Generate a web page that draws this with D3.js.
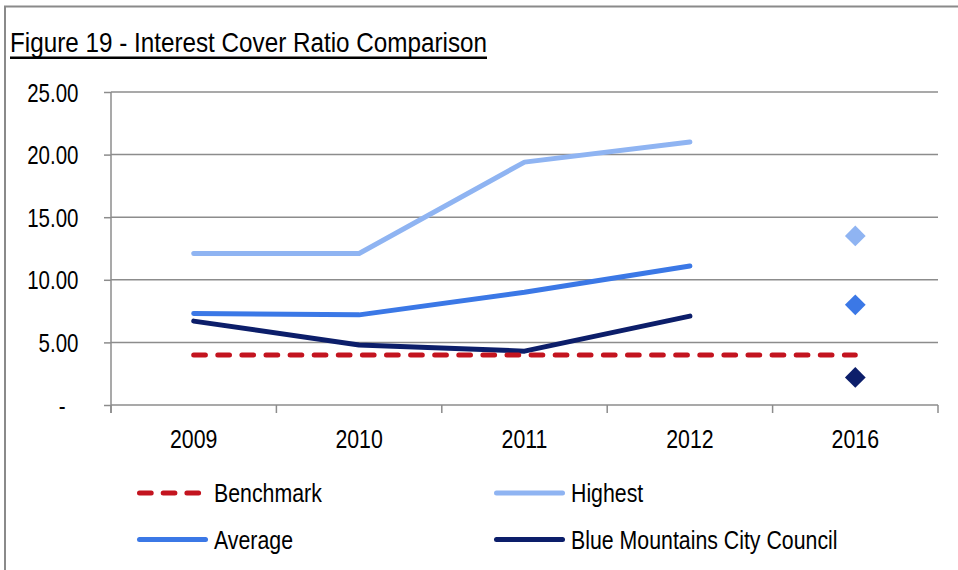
<!DOCTYPE html>
<html>
<head>
<meta charset="utf-8">
<script src="https://cdn.jsdelivr.net/npm/d3@7"></script>
<style>
  html, body { margin: 0; padding: 0; background: #fff; }
  svg { display: block; }
  text { font-family: "Liberation Sans", Arial, sans-serif; fill: #000; }
</style>
</head>
<body>
<svg id="chart" width="958" height="570"></svg>
<script>
// Interest cover ratio by year
const years = ["2009", "2010", "2011", "2012", "2016"];
const yTicks = [0, 5, 10, 15, 20, 25];
const benchmark = [4.0, 4.0, 4.0, 4.0, 4.0];
const highest = [12.1, 12.1, 19.4, 21.0];
const average = [7.3, 7.2, 9.0, 11.1];
const blueMountains = [6.7, 4.8, 4.3, 7.1];
// 2016 projections drawn as single markers
const highest2016 = 13.5;
const average2016 = 8.0;
const blueMountains2016 = 2.2;

const seriesNames = ["Benchmark", "Highest", "Average", "Blue Mountains City Council"];
const colors = {
  "Benchmark": "#c3141f",
  "Highest": "#8fb4f2",
  "Average": "#3b78e6",
  "Blue Mountains City Council": "#0c1e6a"
};

const svg = d3.select("#chart");
const grid = "#8c8c8c";
// condensed lettering: regular sans squeezed horizontally
const NARROW = 0.82;

// places a condensed text at (x, y)
function narrowText(parent, x, yPos, str, size, anchor) {
  return parent.append("g")
    .attr("transform", `translate(${x},${yPos}) scale(${NARROW},1)`)
    .append("text")
    .attr("font-size", size)
    .attr("text-anchor", anchor || "start")
    .text(str);
}

// frame
svg.append("path")
  .attr("d", "M5,570 V6.5 H958")
  .attr("fill", "none").attr("stroke", "#8a8a8a").attr("stroke-width", 2);

// title
narrowText(svg, 10, 52, "Figure 19 - Interest Cover Ratio Comparison", 27.5)
  .attr("textLength", 477 / NARROW).attr("lengthAdjust", "spacingAndGlyphs");
svg.append("line")
  .attr("x1", 10).attr("x2", 487).attr("y1", 57.8).attr("y2", 57.8)
  .attr("stroke", "#000").attr("stroke-width", 2.5);

const plotLeft = 111, plotRight = 938, plotTop = 92, plotBottom = 405;
const x = d3.scaleBand().domain(years).range([plotLeft, plotRight]);
const y = d3.scaleLinear().domain([0, 25]).range([plotBottom, plotTop]);
const cx = d => x(d) + x.bandwidth() / 2;

// horizontal gridlines
svg.append("g").selectAll("line").data(yTicks.filter(t => t > 0)).join("line")
  .attr("x1", plotLeft).attr("x2", plotRight)
  .attr("y1", d => y(d)).attr("y2", d => y(d))
  .attr("stroke", grid).attr("stroke-width", 1.5);

// y axis
const yAxis = svg.append("g").attr("transform", `translate(${plotLeft},0)`)
  .call(d3.axisLeft(y).tickValues(yTicks).tickSizeInner(7).tickSizeOuter(0)
    .tickFormat(d => d === 0 ? "-" : d3.format(".2f")(d)));
yAxis.select(".domain").attr("stroke", grid).attr("stroke-width", 1.5)
  .attr("d", `M0,${plotTop}V${plotBottom + 8}`);
yAxis.selectAll(".tick line").attr("stroke", grid).attr("stroke-width", 1.5);
yAxis.selectAll(".tick text")
  .attr("font-size", 25).attr("font-family", null).attr("fill", "#000")
  .attr("dy", "0.36em")
  .attr("transform", `scale(${NARROW},1)`)
  .attr("x", d => (d === 0 ? -45.5 : -32.5) / NARROW);

// x axis with ticks at category boundaries
svg.append("line").attr("x1", plotLeft).attr("x2", plotRight).attr("y1", plotBottom).attr("y2", plotBottom)
  .attr("stroke", grid).attr("stroke-width", 1.5);
const bounds = years.map(d => x(d) + x.bandwidth()).concat([plotLeft]);
svg.append("g").selectAll("line").data(bounds).join("line")
  .attr("x1", d => d).attr("x2", d => d).attr("y1", plotBottom).attr("y2", plotBottom + 8)
  .attr("stroke", grid).attr("stroke-width", 1.5);
const xLabels = svg.append("g");
years.forEach(d => narrowText(xLabels, cx(d), 448, d, 26, "middle"));

// lines
const line = d3.line().x(d => cx(d[0])).y(d => y(d[1]));
function drawLine(vals, name, dashed) {
  svg.append("path")
    .datum(vals.map((v, i) => [years[i], v]))
    .attr("d", line)
    .attr("fill", "none")
    .attr("stroke", colors[name])
    .attr("stroke-width", 5)
    .attr("stroke-linecap", "round")
    .attr("stroke-linejoin", "round")
    .attr("stroke-dasharray", dashed ? "11.7 12.4" : null);
}
drawLine(highest, "Highest");
drawLine(average, "Average");
drawLine(blueMountains, "Blue Mountains City Council");
drawLine(benchmark, "Benchmark", true);

// 2016 diamonds
const diamond = d3.symbol().type(d3.symbolSquare).size(215);
[[highest2016, "Highest"], [average2016, "Average"], [blueMountains2016, "Blue Mountains City Council"]]
  .forEach(([v, name]) => {
    svg.append("path")
      .attr("d", diamond())
      .attr("transform", `translate(${cx("2016")},${y(v)}) rotate(45)`)
      .attr("fill", colors[name]);
  });

// legend
const legendPos = [
  { name: "Benchmark", x: 137, y: 493, dashed: true },
  { name: "Highest", x: 494, y: 493 },
  { name: "Average", x: 137, y: 539.5 },
  { name: "Blue Mountains City Council", x: 494, y: 539.5 }
];
const lg = svg.append("g");
legendPos.forEach(p => {
  lg.append("line")
    .attr("x1", p.x + 2.5).attr("x2", p.dashed ? p.x + 62.5 : p.x + 68.5)
    .attr("y1", p.y).attr("y2", p.y)
    .attr("stroke", colors[p.name]).attr("stroke-width", 5)
    .attr("stroke-linecap", "round")
    .attr("stroke-dasharray", p.dashed ? "11.7 12" : null);
  narrowText(lg, p.x + 77, p.y, p.name, 26).attr("dy", "0.36em");
});
</script>
</body>
</html>
